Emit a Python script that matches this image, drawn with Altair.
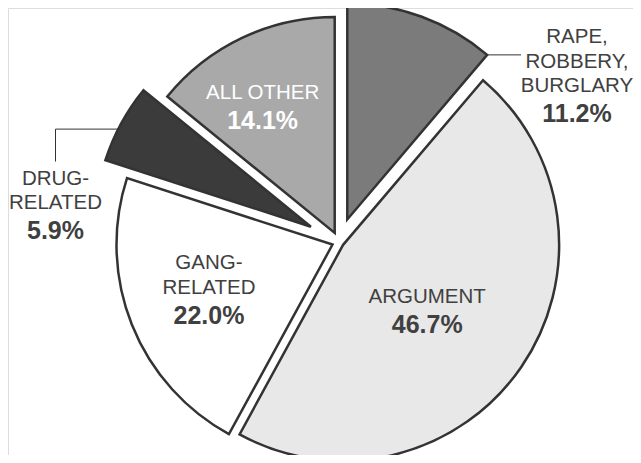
import math
import altair as alt
import pandas as pd

# ---- data ----
categories = ["RAPE, ROBBERY, BURGLARY", "ARGUMENT", "GANG-RELATED", "DRUG-RELATED", "ALL OTHER"]
values = [11.2, 46.7, 22.0, 5.9, 14.1]
name_lines = [["RAPE,", "ROBBERY,", "BURGLARY"], ["ARGUMENT"], ["GANG-", "RELATED"],
              ["DRUG-", "RELATED"], ["ALL OTHER"]]

# ---- styles ----
fills = ["#7b7b7b", "#e8e8e8", "#ffffff", "#3b3b3b", "#a9a9a9"]
text_colors = ["#404040", "#404040", "#404040", "#404040", "#ffffff"]
explode = [24, 5, 7, 32, 10]          # radial explode distance (px)
label_r = [262.7, 102, 133, 256, 152]   # label distance from slice apex
label_turn = [40.8, 0, 0, -24.6, -2.9]  # label angle relative to slice middle (deg)
leader = [1, 0, 0, 2, 0]              # 0 none, 1 straight, 2 elbow
lead_frac = [1.0, 0.5, 0.5, 0.42, 0.5]
lead_dx = [-56, 0, 0, 0, 0]

W, H = 625, 447
CX, CY, R = 331, 234, 216
LH = 24.5
FONT = "Liberation Sans"
INK = "#333333"

df = pd.DataFrame({
    "category": categories,
    "value": values,
    "order": list(range(len(categories))),
    "name": ["\n".join(l) for l in name_lines],
    "nlines": [len(l) for l in name_lines],
    "fill": fills,
    "tcolor": text_colors,
    "explode": explode,
    "label_r": label_r,
    "label_turn": label_turn,
    "leader": leader,
    "lead_frac": lead_frac,
    "lead_dx": lead_dx,
})

base = (
    alt.Chart(df)
    .transform_joinaggregate(total="sum(value)")
    .transform_window(cum="sum(value)", sort=[alt.SortField("order", order="ascending")], frame=[None, 0])
    .transform_calculate(
        f0="(datum.cum - datum.value) / datum.total",
        f1="datum.cum / datum.total",
    )
    .transform_calculate(mid="PI * (datum.f0 + datum.f1)")
    .transform_calculate(
        cx=f"{CX} + datum.explode * sin(datum.mid)",
        cy=f"{CY} - datum.explode * cos(datum.mid)",
        la="datum.mid + datum.label_turn * PI / 180",
        sa="2 * PI * (datum.f0 + datum.lead_frac * (datum.f1 - datum.f0))",
        pct="format(datum.value, '.1f') + '%'",
    )
    .transform_calculate(
        ax="datum.cx + datum.label_r * sin(datum.la)",
        ay="datum.cy - datum.label_r * cos(datum.la)",
        sx=f"datum.cx + {R} * sin(datum.sa)",
        sy=f"datum.cy - {R} * cos(datum.sa)",
    )
    .transform_calculate(
        first_y=f"datum.ay - (datum.nlines - 1) * {LH}",
        pct_y="datum.ay + 30",
        hx="datum.ax + datum.lead_dx",
    )
    .transform_calculate(vy="datum.first_y - 23")
)

arcs = base.mark_arc(stroke=INK, strokeWidth=2.5, strokeJoin="miter", radius=R).encode(
    x=alt.X("cx:Q", scale=None, axis=None),
    y=alt.Y("cy:Q", scale=None, axis=None),
    theta=alt.Theta("f0:Q", scale=alt.Scale(domain=[0, 1], range=[0, 2 * math.pi])),
    theta2="f1:Q",
    fill=alt.Fill("fill:N", scale=None, legend=None),
)

lead_h = base.transform_filter("datum.leader > 0").mark_rule(stroke=INK, strokeWidth=1).encode(
    x=alt.X("sx:Q", scale=None, axis=None),
    x2="hx:Q",
    y=alt.Y("sy:Q", scale=None, axis=None),
    y2="sy:Q",
)

lead_v = base.transform_filter("datum.leader == 2").mark_rule(stroke=INK, strokeWidth=1).encode(
    x=alt.X("hx:Q", scale=None, axis=None),
    y=alt.Y("sy:Q", scale=None, axis=None),
    y2="vy:Q",
)

names = base.mark_text(
    align="center", baseline="alphabetic", font=FONT, fontSize=20.5, lineHeight=LH, lineBreak="\n"
).encode(
    x=alt.X("ax:Q", scale=None, axis=None),
    y=alt.Y("first_y:Q", scale=None, axis=None),
    text="name:N",
    fill=alt.Fill("tcolor:N", scale=None, legend=None),
)

pcts = base.mark_text(
    align="center", baseline="alphabetic", font=FONT, fontSize=25, fontWeight="bold"
).encode(
    x=alt.X("ax:Q", scale=None, axis=None),
    y=alt.Y("pct_y:Q", scale=None, axis=None),
    text="pct:N",
    fill=alt.Fill("tcolor:N", scale=None, legend=None),
)

chart = (
    alt.layer(arcs, lead_h, lead_v, names, pcts)
    .properties(width=W, height=H, autosize=alt.AutoSizeParams(type="none"), padding=0)
    .configure_view(stroke=None)
    .configure(background="white")
)

chart.save("out.html", embed_options={"renderer": "svg", "actions": False})
